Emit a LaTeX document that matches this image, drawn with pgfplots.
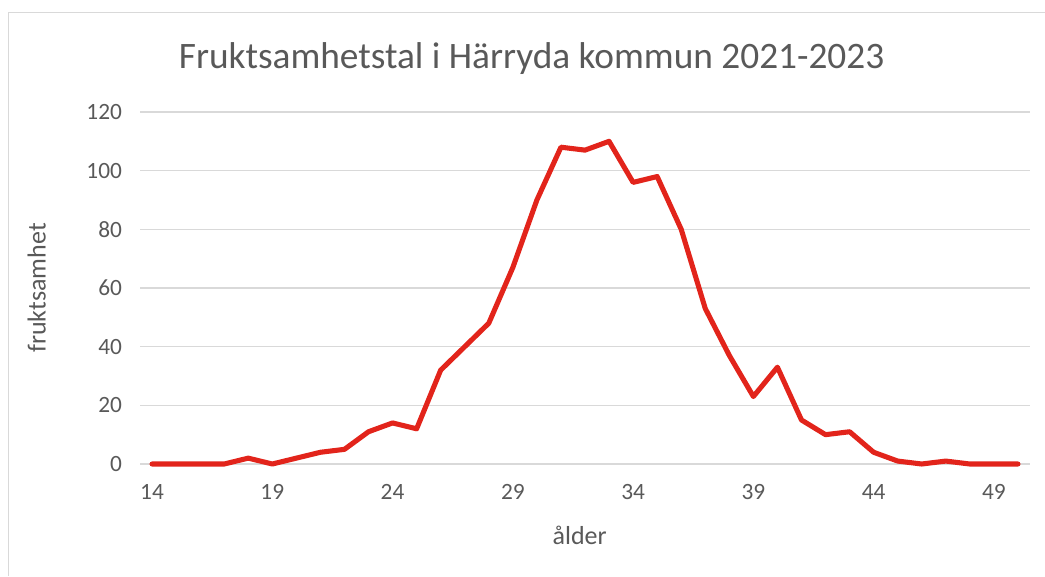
\documentclass[border=0pt]{standalone}
\usepackage{fontspec}
\setmainfont{Carlito}
\usepackage{pgfplots}
\pgfplotsset{compat=1.18}
\definecolor{txt}{HTML}{595959}
\definecolor{gridc}{HTML}{D9D9D9}
\definecolor{lred}{HTML}{E2241B}
\begin{document}
\begin{tikzpicture}
\path[use as bounding box] (0,0) rectangle (783.75pt,432pt);
\draw[draw=gridc, line width=0.75pt] (6pt,0) -- (6pt,422.25pt) -- (783.75pt,422.25pt);
\begin{axis}[
  at={(105pt,84pt)}, anchor=south west,
  scale only axis, width=667.5pt, height=264pt,
  xmin=13.5, xmax=50.5, ymin=0, ymax=120,
  xtick={14,19,...,49}, ytick={0,20,...,120},
  axis line style={draw=none},
  major tick length=0pt,
  tick style={draw=none},
  xmajorgrids=false, ymajorgrids=true,
  major grid style={draw=gridc, line width=0.9pt},
  tick label style={font=\fontsize{17.5}{20}\selectfont, text=txt},
  /pgf/number format/assume math mode=true,
  xticklabel style={yshift=-12pt},
  yticklabel style={xshift=-10pt},
  title={Fruktsamhetstal i Härryda kommun 2021-2023},
  title style={font=\fontsize{28}{32}\selectfont, text=txt, at={(axis description cs:0.44,1.13)}, anchor=center},
  xlabel={ålder},
  xlabel style={font=\fontsize{19.5}{22}\selectfont, text=txt, at={(axis description cs:0.494,-0.202)}, anchor=center},
  ylabel={fruktsamhet},
  ylabel style={font=\fontsize{19.5}{22}\selectfont, text=txt, at={(axis description cs:-0.116,0.5)}, anchor=center, rotate=0},
  clip=false,
]
\addplot[lred, line width=3.8pt, line join=round, line cap=round] coordinates {
(14,0)(15,0)(16,0)(17,0)(18,2)(19,0)(20,2)(21,4)(22,5)(23,11)(24,14)(25,12)(26,32)(27,40)(28,48)(29,67)(30,90)(31,108)(32,107)(33,110)(34,96)(35,98)(36,80)(37,53)(38,37)(39,23)(40,33)(41,15)(42,10)(43,11)(44,4)(45,1)(46,0)(47,1)(48,0)(49,0)(50,0)
};
\end{axis}
\end{tikzpicture}
\end{document}
